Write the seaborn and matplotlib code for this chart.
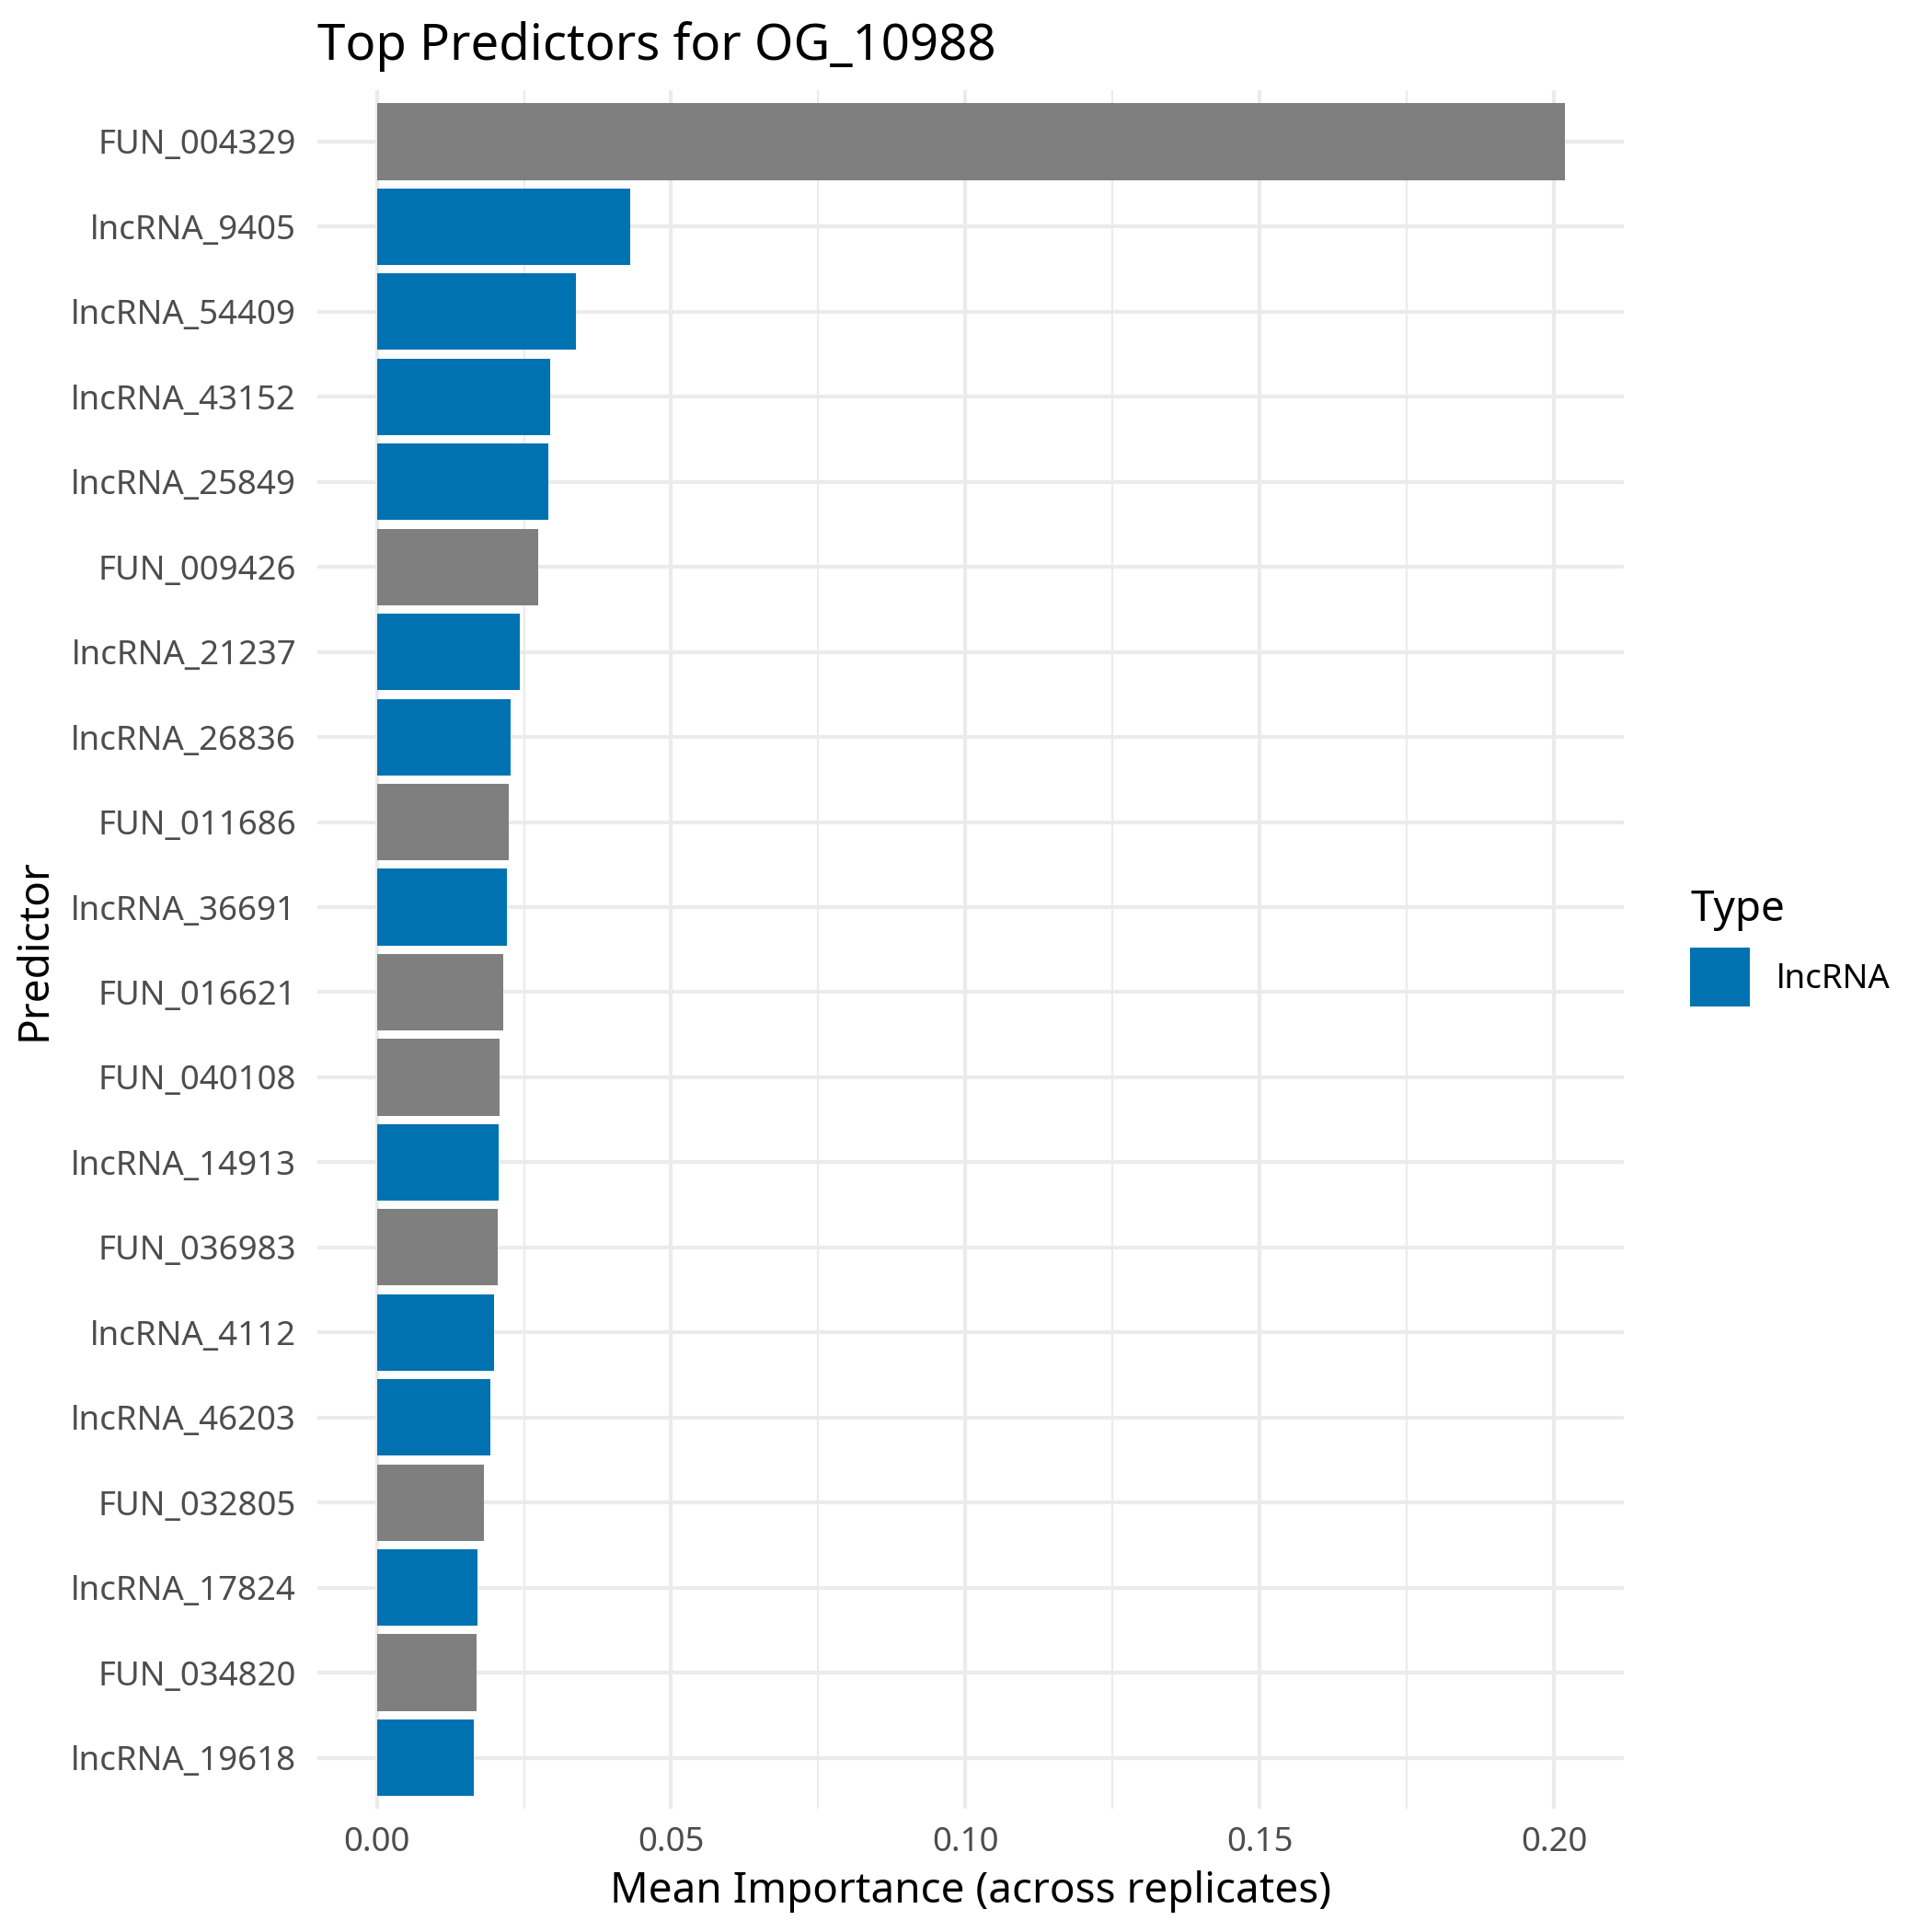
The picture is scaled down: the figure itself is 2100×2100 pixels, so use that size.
import matplotlib
matplotlib.use("Agg")
import matplotlib.pyplot as plt
from matplotlib.patches import Patch
import pandas as pd
import seaborn as sns

# ── Datos
predictors = [
    "FUN_004329", "lncRNA_9405", "lncRNA_54409", "lncRNA_43152", "lncRNA_25849",
    "FUN_009426", "lncRNA_21237", "lncRNA_26836", "FUN_011686", "lncRNA_36691",
    "FUN_016621", "FUN_040108", "lncRNA_14913", "FUN_036983", "lncRNA_4112",
    "lncRNA_46203", "FUN_032805", "lncRNA_17824", "FUN_034820", "lncRNA_19618",
]
importance = [
    0.2018, 0.0430, 0.0339, 0.0294, 0.0291,
    0.0274, 0.0243, 0.0227, 0.0224, 0.0221,
    0.0215, 0.0209, 0.0207, 0.0205, 0.0199,
    0.0193, 0.0182, 0.0171, 0.0170, 0.0165,
]
types = ["lncRNA" if p.startswith("lncRNA") else "FUN" for p in predictors]
x_ticks = [0.00, 0.05, 0.10, 0.15, 0.20]

BLUE = "#0072B2"
GREY = "#7F7F7F"

df = pd.DataFrame({"Predictor": predictors, "Importance": importance, "Type": types})

sns.set_theme(style="white")
plt.rcParams["font.family"] = ["Noto Sans", "DejaVu Sans"]
plt.rcParams["text.color"] = "black"
plt.rcParams["axes.labelcolor"] = "black"

fig = plt.figure(figsize=(7, 7), dpi=300)
ax = fig.add_axes([0.1643, 0.0638, 0.8405 - 0.1643, 0.9531 - 0.0638])

# gridlines estilo theme_minimal
for x in x_ticks:
    ax.axvline(x, color="#EBEBEB", lw=1.0, zorder=0)
for x in [0.025, 0.075, 0.125, 0.175]:
    ax.axvline(x, color="#EBEBEB", lw=0.5, zorder=0)
for i in range(len(predictors)):
    ax.axhline(i, color="#EBEBEB", lw=1.0, zorder=0)

sns.barplot(
    data=df, x="Importance", y="Predictor", hue="Type",
    palette={"lncRNA": BLUE, "FUN": GREY},
    dodge=False, width=0.9, saturation=1, legend=False, ax=ax, zorder=2,
    linewidth=0, edgecolor="none",
)

xmax = max(importance)
pad = xmax * 0.05
ax.set_xlim(-pad, xmax + pad)
ax.set_ylim(len(predictors) - 0.4, -0.6)
ax.set_xticks(x_ticks)
ax.set_xticklabels([f"{v:.2f}" for v in x_ticks])

for s in ax.spines.values():
    s.set_visible(False)
ax.tick_params(axis="both", length=0, labelsize=8.8, labelcolor="#4D4D4D")
ax.tick_params(axis="y", pad=5.5)
ax.tick_params(axis="x", pad=4.5)

ax.set_xlabel("Mean Importance (across replicates)", fontsize=11, labelpad=3)
ax.set_ylabel("Predictor", fontsize=11, labelpad=4)
ax.set_title("Top Predictors for OG_10988", fontsize=13.1, loc="left", pad=8)

# ── Leyenda (solo lncRNA, como en el original)
handles = [Patch(facecolor=BLUE, edgecolor="none", label="lncRNA")]
leg = fig.legend(
    handles=handles, title="Type", loc="upper left",
    bbox_to_anchor=(1837 / 2100, 1 - 966 / 2100), frameon=False,
    fontsize=8.8, title_fontsize=11, handlelength=1.77, handleheight=2.3,
    handletextpad=0.8, borderaxespad=0, borderpad=0,
)
leg._legend_box.align = "left"

fig.savefig("out.png", dpi=300, facecolor="white")
